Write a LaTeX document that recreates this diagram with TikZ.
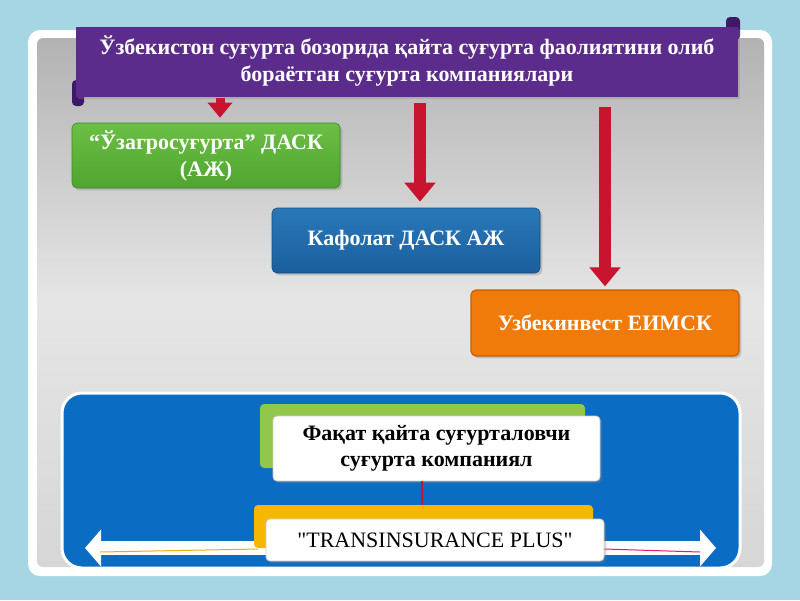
\documentclass[tikz,border=0pt]{standalone}
\usepackage{fontspec}
\setmainfont{Liberation Serif}
\newfontfamily\plainserif{Liberation Serif}
\usetikzlibrary{arrows.meta,shadows,calc}
\definecolor{bgblue}{HTML}{A6D6E4}
\definecolor{purp}{HTML}{5B2C8C}
\definecolor{purpdark}{HTML}{3E1A66}
\definecolor{grn}{HTML}{4FA52F}
\definecolor{grnlight}{HTML}{6CBF45}
\definecolor{blu}{HTML}{1A5F9E}
\definecolor{blulight}{HTML}{2A78B8}
\definecolor{orng}{HTML}{F07A0A}
\definecolor{orngdark}{HTML}{C65F00}
\definecolor{panelblue}{HTML}{0B6CC4}
\definecolor{lgreen}{HTML}{92C74B}
\definecolor{ylw}{HTML}{F5B700}
\definecolor{arrred}{HTML}{C8142E}
\tikzset{
  box/.style={rounded corners=5pt, minimum width=268pt, minimum height=65pt, align=center,
    text=white, font=\fontsize{22}{27}\selectfont\bfseries, drop shadow={opacity=0.35}},
  card/.style={rounded corners=4pt, fill=white, draw=gray!40, line width=0.8pt, align=center,
    drop shadow={opacity=0.3}},
  backcard/.style={rounded corners=4pt, draw=none},
  redarrow/.style={draw=arrred, line width=12pt, -{Triangle[width=30pt,length=19pt]}, fill=arrred},
}
\begin{document}
\begin{tikzpicture}[x=1pt,y=-1pt]
\useasboundingbox (0,0) rectangle (800,600);
% background
\fill[bgblue] (0,0) rectangle (800,600);
% white frame and grey panel
\fill[white, rounded corners=12pt] (28,30) rectangle (772,576);
\shade[top color=black!30, bottom color=black!16, middle color=black!10, rounded corners=6pt] (37,38) rectangle (764,567);
% title banner
\fill[purpdark, rounded corners=4pt] (726,17) rectangle (740,40);
\fill[purpdark, rounded corners=4pt] (72,80) rectangle (84,106);
\node[fill=purp, minimum width=662pt, minimum height=70pt, align=center, text=white,
  font=\fontsize{22}{27}\selectfont\bfseries, drop shadow={opacity=0.3}] (title) at (407,61.5)
  {Ўзбекистон суғурта бозорида қайта суғурта фаолиятини олиб\\бораётган суғурта компаниялари};
% company boxes
\node[box, top color=grnlight, bottom color=grn, draw=grn!80!black, line width=0.6pt] (agro) at (206,155.5)
  {“Ўзагросуғурта” ДАСК\\(АЖ)};
\node[box, top color=blulight, bottom color=blu, draw=blu!80!black, line width=0.6pt] (kafolat) at (406,240.5)
  {Кафолат ДАСК АЖ};
\node[box, fill=orng, draw=orngdark, line width=1.2pt, minimum height=66pt] (uzinv) at (605,323)
  {Узбекинвест ЕИМСК};
% red arrows
\coordinate (c1) at (220,0);
\coordinate (c2) at (420,0);
\coordinate (c3) at (605,0);
\draw[draw=arrred, line width=9pt, -{Triangle[width=24pt,length=15pt]}, shorten <=1pt, shorten >=5pt]
  (title.south -| c1) -- (agro.north -| c1);
\draw[redarrow, shorten <=6pt, shorten >=6pt] (title.south -| c2) -- (kafolat.north -| c2);
\draw[redarrow, shorten <=10pt, shorten >=3pt] (title.south -| c3) -- (uzinv.north -| c3);
% bottom blue panel
\node[fill=panelblue, draw=white, line width=3pt, rounded corners=20pt, minimum width=678pt,
  minimum height=175pt] (panel) at (401,480.5) {};
% double white arrow
\coordinate (la) at (85,548);
\coordinate (ra) at (716,548);
\draw[white, line width=14pt, {Triangle[width=36pt,length=16pt]}-{Triangle[width=36pt,length=16pt]}] (la) -- (ra);
\draw[ylw!80!brown, line width=1pt] (100,552) -- (258,549);
\draw[magenta!70!purple, line width=1pt] (604,549) -- (700,552);
% cards
\node[backcard, fill=lgreen, minimum width=325pt, minimum height=64pt] (fakatback) at (422.5,436) {};
\node[card, minimum width=327pt, minimum height=65pt, font=\fontsize{22}{26}\selectfont\bfseries] (fakat) at (436.5,448.5)
  {Фақат қайта суғурталовчи\\суғурта компаниял};
\node[backcard, fill=ylw, minimum width=339pt, minimum height=43pt] (plusback) at (423.5,526.5) {};
\node[card, minimum width=338pt, minimum height=42pt, font=\plainserif\fontsize{22}{26}\selectfont] (plus) at (435,540)
  {"TRANSINSURANCE PLUS"};
\coordinate (c4) at (422,0);
\draw[arrred, line width=1.2pt] (fakat.south -| c4) -- (plusback.north -| c4);
\end{tikzpicture}
\end{document}
